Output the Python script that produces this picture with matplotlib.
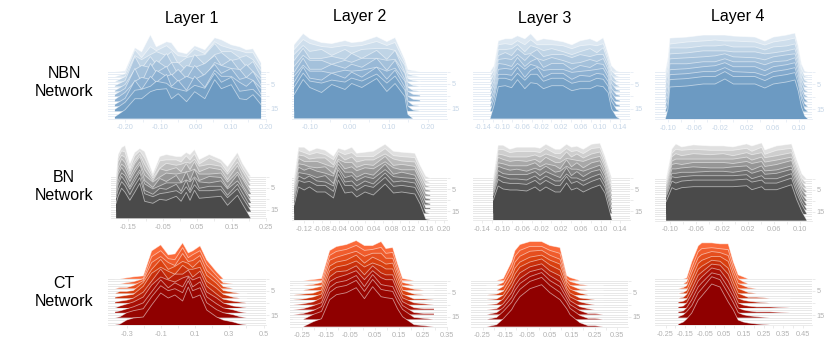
import matplotlib
matplotlib.use('Agg')
import matplotlib.pyplot as plt
from matplotlib.colors import LinearSegmentedColormap

plt.rcParams['font.family'] = ['Liberation Sans', 'DejaVu Sans']

# training steps of the ridges that are drawn (back to front)
steps = [0, 2, 4, 6, 8, 10, 12, 14, 16, 19]
all_steps = list(range(20))

# NBN network
nbn1_x = [-0.230, -0.201, -0.173, -0.154, -0.129, -0.112, -0.083, -0.069, -0.050, -0.026, -0.003, 0.026, 0.054, 0.073, 0.101, 0.125, 0.144, 0.163, 0.186]
nbn1_h = [
    [0, 1, 24, 20, 37, 25, 30, 29, 20, 18, 26, 22, 34, 32, 27, 25, 22, 23, 9],
    [0, 3, 27, 19, 30, 26, 31, 27, 21, 20, 28, 23, 35, 31, 28, 26, 24, 24, 10],
    [0, 5, 26, 22, 27, 30, 26, 30, 18, 24, 26, 27, 38, 30, 30, 24, 26, 22, 11],
    [1, 6, 30, 18, 30, 22, 33, 24, 24, 16, 32, 22, 32, 34, 26, 28, 20, 25, 10],
    [1, 7, 22, 26, 24, 31, 24, 29, 17, 26, 24, 28, 36, 26, 32, 21, 27, 20, 12],
    [2, 8, 28, 14, 33, 24, 30, 21, 27, 18, 31, 20, 34, 31, 28, 27, 19, 25, 11],
    [2, 9, 20, 24, 22, 31, 25, 27, 20, 25, 22, 27, 37, 28, 33, 22, 24, 21, 13],
    [2, 8, 26, 17, 30, 24, 32, 20, 26, 16, 30, 19, 36, 30, 30, 24, 20, 26, 12],
    [2, 9, 21, 22, 25, 30, 28, 24, 22, 20, 26, 23, 38, 29, 34, 20, 21, 22, 14],
    [2, 9, 20, 20, 27, 29, 30, 20, 25, 17, 27, 20, 39, 30, 34, 20, 19, 24, 14],
]
nbn2_x = [-0.142, -0.119, -0.102, -0.072, -0.046, -0.012, 0.005, 0.031, 0.069, 0.095, 0.116, 0.141, 0.149, 0.162, 0.180]
nbn2_h = [
    [27, 38, 33, 29, 28, 31, 29, 30, 35, 30, 34, 12, 2, 1, 0],
    [27, 37, 33, 30, 29, 31, 30, 31, 35, 31, 34, 14, 3, 1, 0],
    [27, 36, 30, 32, 26, 32, 28, 32, 33, 33, 31, 16, 3, 1, 0],
    [26, 38, 28, 28, 30, 27, 33, 28, 36, 27, 36, 14, 4, 1, 0],
    [25, 36, 31, 31, 27, 31, 29, 33, 33, 31, 32, 18, 4, 1, 0],
    [24, 38, 27, 27, 32, 28, 32, 29, 38, 26, 36, 17, 5, 2, 1],
    [25, 36, 30, 30, 28, 31, 30, 31, 34, 30, 33, 20, 5, 2, 1],
    [24, 39, 28, 26, 33, 28, 34, 29, 39, 27, 36, 19, 5, 1, 0],
    [24, 38, 30, 28, 31, 29, 33, 30, 37, 28, 35, 21, 5, 1, 0],
    [24, 39, 31, 26, 34, 29, 35, 31, 40, 27, 35, 22, 4, 0, 0],
]
nbn3_x = [-0.125, -0.117, -0.108, -0.094, -0.081, -0.069, -0.054, -0.042, -0.029, -0.016, 0.001, 0.024, 0.042, 0.059, 0.079, 0.093, 0.106, 0.116, 0.123, 0.133, 0.140]
nbn3_h = [
    [0, 6, 31, 33, 33, 36, 33, 38, 31, 33, 32, 30, 27, 31, 33, 30, 34, 18, 6, 1, 0],
    [0, 7, 32, 33, 32, 36, 32, 37, 32, 32, 32, 31, 28, 31, 32, 31, 33, 19, 6, 1, 0],
    [0, 8, 32, 32, 33, 37, 30, 36, 34, 31, 33, 30, 27, 30, 33, 29, 34, 20, 7, 1, 0],
    [0, 9, 31, 34, 31, 38, 32, 33, 37, 30, 32, 32, 29, 32, 30, 32, 32, 21, 7, 2, 0],
    [0, 10, 32, 33, 32, 37, 31, 37, 33, 31, 34, 31, 28, 29, 32, 30, 33, 22, 8, 2, 1],
    [0, 11, 33, 32, 30, 39, 30, 35, 38, 29, 33, 33, 27, 31, 29, 33, 32, 23, 8, 2, 1],
    [0, 11, 32, 33, 32, 38, 32, 37, 35, 31, 32, 32, 29, 30, 31, 32, 33, 24, 9, 2, 1],
    [0, 12, 32, 32, 31, 39, 29, 36, 39, 29, 33, 33, 27, 31, 30, 33, 32, 25, 9, 2, 1],
    [0, 12, 33, 33, 31, 38, 31, 37, 37, 30, 33, 33, 28, 30, 30, 33, 32, 25, 10, 2, 0],
    [0, 13, 32, 33, 31, 39, 30, 36, 35, 30, 33, 33, 28, 30, 30, 33, 32, 26, 10, 2, 0],
]
nbn4_x = [-0.104, -0.100, -0.097, -0.071, -0.046, -0.028, -0.013, 0.000, 0.033, 0.048, 0.061, 0.081, 0.094, 0.099, 0.104, 0.109, 0.114]
nbn4_h = [
    [0, 14, 34, 35, 37, 37, 37, 36, 35, 31, 35, 37, 39, 26, 8, 1, 0],
    [0, 14, 33, 35, 36, 37, 36, 36, 35, 32, 35, 37, 39, 26, 8, 1, 0],
    [0, 13, 34, 34, 36, 36, 37, 35, 35, 32, 35, 36, 38, 27, 9, 2, 0],
    [0, 13, 33, 34, 36, 36, 36, 35, 35, 33, 34, 36, 38, 27, 9, 2, 0],
    [0, 12, 33, 34, 35, 36, 38, 35, 34, 32, 35, 37, 38, 28, 10, 2, 0],
    [0, 12, 33, 33, 35, 35, 38, 35, 35, 32, 35, 36, 39, 28, 10, 2, 0],
    [0, 11, 32, 33, 35, 36, 39, 35, 35, 31, 35, 37, 39, 28, 11, 3, 0],
    [0, 11, 32, 33, 35, 35, 39, 35, 34, 31, 35, 37, 39, 28, 11, 3, 0],
    [0, 10, 32, 33, 35, 35, 40, 35, 35, 31, 35, 37, 39, 28, 12, 3, 0],
    [0, 10, 32, 33, 35, 35, 40, 35, 35, 31, 35, 37, 39, 28, 12, 3, 0],
]

# BN network
bn1_x = [-0.186, -0.180, -0.170, -0.160, -0.146, -0.132, -0.117, -0.103, -0.079, -0.059, -0.040, -0.011, 0.003, 0.018, 0.029, 0.042, 0.056, 0.085, 0.119, 0.138, 0.167, 0.182, 0.206]
bn1_h = [
    [0, 22, 29, 31, 13, 24, 28, 25, 3, 20, 22, 20, 20, 24, 22, 27, 17, 22, 17, 10, 24, 13, 0],
    [2, 23, 30, 29, 12, 25, 30, 23, 5, 20, 21, 21, 19, 25, 21, 27, 17, 23, 18, 9, 24, 13, 0],
    [5, 24, 30, 28, 14, 24, 31, 21, 7, 17, 22, 20, 21, 23, 22, 26, 19, 21, 19, 11, 23, 14, 0],
    [7, 22, 31, 27, 15, 26, 33, 20, 9, 21, 19, 22, 18, 26, 20, 28, 18, 22, 20, 10, 24, 13, 0],
    [9, 23, 30, 27, 16, 25, 32, 19, 12, 17, 21, 20, 21, 22, 23, 25, 20, 20, 21, 12, 22, 15, 1],
    [11, 24, 31, 26, 17, 26, 34, 18, 11, 20, 17, 23, 16, 27, 18, 29, 18, 22, 21, 11, 24, 13, 0],
    [12, 22, 30, 27, 16, 25, 33, 19, 14, 17, 20, 20, 20, 23, 21, 26, 21, 20, 22, 14, 22, 15, 1],
    [13, 23, 31, 26, 18, 26, 35, 17, 13, 19, 18, 23, 16, 27, 17, 29, 19, 21, 21, 12, 23, 14, 0],
    [14, 22, 30, 26, 17, 26, 34, 18, 15, 18, 19, 21, 18, 25, 19, 27, 21, 21, 22, 14, 23, 14, 1],
    [15, 22, 30, 26, 18, 26, 35, 17, 15, 19, 18, 22, 17, 26, 18, 28, 20, 21, 22, 13, 23, 14, 0],
]
bn2_x = [-0.143, -0.133, -0.120, -0.108, -0.091, -0.072, -0.053, -0.042, -0.027, -0.011, 0.000, 0.019, 0.038, 0.065, 0.084, 0.103, 0.133, 0.145, 0.158, 0.168]
bn2_h = [
    [0, 31, 31, 27, 30, 28, 22, 30, 28, 31, 25, 26, 27, 34, 27, 26, 25, 13, 2, 0],
    [2, 32, 30, 28, 30, 28, 23, 31, 28, 30, 26, 26, 26, 34, 27, 26, 25, 13, 2, 0],
    [4, 32, 31, 28, 29, 29, 22, 33, 27, 30, 25, 27, 27, 33, 28, 26, 25, 14, 2, 0],
    [6, 33, 30, 30, 30, 27, 24, 32, 29, 29, 24, 27, 26, 35, 26, 27, 25, 14, 2, 1],
    [8, 32, 31, 29, 28, 29, 22, 35, 27, 29, 25, 28, 27, 34, 28, 26, 26, 15, 2, 1],
    [9, 33, 30, 32, 29, 27, 24, 36, 28, 28, 23, 27, 25, 36, 26, 28, 25, 15, 2, 1],
    [11, 32, 31, 30, 27, 29, 21, 37, 27, 29, 24, 28, 26, 35, 28, 27, 26, 15, 2, 1],
    [12, 33, 30, 33, 28, 27, 23, 39, 27, 28, 23, 28, 25, 36, 27, 28, 26, 16, 1, 1],
    [13, 33, 31, 32, 28, 28, 22, 39, 28, 28, 23, 28, 26, 36, 27, 28, 26, 16, 1, 0],
    [15, 33, 30, 33, 28, 28, 22, 40, 27, 28, 23, 28, 25, 36, 27, 28, 26, 16, 1, 0],
]
bn3_x = [-0.118, -0.108, -0.098, -0.084, -0.070, -0.050, -0.033, -0.023, -0.011, 0.008, 0.018, 0.031, 0.041, 0.052, 0.065, 0.082, 0.099, 0.109, 0.123]
bn3_h = [
    [0, 33, 33, 29, 31, 31, 31, 30, 34, 29, 29, 34, 31, 32, 29, 34, 35, 22, 0],
    [2, 33, 33, 30, 31, 31, 31, 30, 34, 29, 29, 34, 31, 32, 29, 34, 35, 23, 0],
    [5, 33, 32, 30, 30, 30, 32, 30, 33, 30, 28, 35, 30, 33, 29, 33, 35, 23, 0],
    [8, 34, 32, 30, 31, 30, 32, 29, 34, 29, 29, 33, 32, 31, 30, 33, 35, 24, 1],
    [10, 33, 32, 30, 30, 30, 33, 29, 32, 30, 27, 36, 29, 33, 28, 33, 35, 24, 1],
    [12, 34, 32, 30, 31, 29, 32, 30, 34, 28, 29, 34, 31, 31, 29, 32, 35, 25, 1],
    [14, 34, 31, 30, 30, 30, 33, 29, 33, 29, 27, 37, 29, 33, 28, 33, 35, 25, 1],
    [16, 34, 32, 30, 30, 29, 33, 29, 33, 28, 28, 35, 31, 31, 28, 32, 35, 26, 1],
    [18, 34, 31, 30, 30, 29, 33, 29, 33, 28, 28, 37, 30, 32, 28, 32, 35, 26, 1],
    [20, 34, 31, 30, 30, 29, 33, 29, 33, 28, 28, 37, 30, 32, 28, 32, 35, 27, 1],
]
bn4_x = [-0.106, -0.097, -0.091, -0.082, -0.064, -0.038, -0.018, -0.003, 0.018, 0.026, 0.041, 0.046, 0.064, 0.087, 0.095, 0.103, 0.110]
bn4_h = [
    [0, 30, 35, 32, 34, 33, 33, 32, 35, 33, 36, 29, 33, 35, 19, 5, 0],
    [2, 30, 34, 33, 34, 33, 33, 33, 35, 32, 36, 29, 33, 35, 19, 5, 0],
    [4, 31, 34, 32, 34, 33, 34, 32, 35, 33, 35, 30, 32, 35, 20, 6, 0],
    [7, 31, 33, 33, 33, 33, 33, 33, 35, 32, 35, 30, 32, 35, 20, 6, 1],
    [9, 32, 33, 32, 34, 34, 34, 33, 35, 33, 35, 30, 32, 36, 20, 7, 1],
    [11, 32, 32, 33, 34, 33, 33, 34, 35, 31, 35, 30, 31, 35, 21, 7, 1],
    [13, 32, 32, 33, 33, 34, 34, 33, 35, 32, 35, 31, 32, 36, 21, 8, 1],
    [15, 33, 32, 33, 34, 34, 34, 34, 35, 31, 34, 31, 31, 36, 21, 8, 1],
    [17, 33, 31, 33, 34, 34, 34, 34, 35, 32, 34, 31, 31, 36, 21, 9, 1],
    [19, 33, 31, 33, 34, 34, 34, 34, 35, 31, 34, 31, 31, 36, 21, 9, 1],
]

# CT network
ct1_x = [-0.368, -0.339, -0.300, -0.261, -0.203, -0.154, -0.101, -0.057, -0.018, 0.027, 0.060, 0.086, 0.129, 0.168, 0.226, 0.265, 0.323, 0.363, 0.402]
ct1_h = [
    [0, 0, 1, 2, 3, 28, 34, 24, 25, 36, 26, 28, 33, 19, 7, 0, 0, 0, 0],
    [0, 0, 1, 2, 5, 27, 33, 25, 24, 36, 26, 29, 33, 19, 8, 1, 0, 0, 0],
    [0, 1, 1, 3, 8, 26, 32, 26, 23, 35, 27, 28, 33, 18, 9, 2, 0, 0, 0],
    [0, 2, 2, 3, 11, 24, 34, 24, 27, 32, 30, 26, 33, 18, 10, 3, 1, 0, 0],
    [1, 2, 3, 4, 12, 25, 31, 27, 24, 33, 29, 29, 31, 17, 10, 4, 1, 0, 0],
    [1, 2, 3, 5, 11, 22, 34, 24, 29, 29, 33, 26, 32, 17, 9, 4, 2, 1, 0],
    [0, 2, 4, 6, 11, 23, 31, 28, 26, 30, 32, 28, 31, 16, 10, 5, 2, 1, 0],
    [1, 2, 4, 6, 10, 21, 33, 25, 30, 26, 36, 26, 31, 16, 9, 5, 3, 1, 0],
    [0, 1, 5, 7, 9, 21, 32, 27, 29, 25, 37, 27, 30, 15, 8, 5, 3, 1, 0],
    [0, 1, 5, 7, 8, 20, 32, 27, 30, 24, 38, 27, 30, 15, 8, 5, 3, 1, 0],
]
ct2_x = [-0.287, -0.246, -0.204, -0.170, -0.136, -0.108, -0.067, -0.026, 0.008, 0.042, 0.077, 0.097, 0.125, 0.145, 0.166, 0.214, 0.255, 0.296]
ct2_h = [
    [0, 0, 1, 2, 30, 34, 36, 40, 35, 35, 39, 32, 33, 17, 2, 0, 0, 0],
    [0, 0, 1, 3, 30, 34, 36, 40, 35, 36, 38, 32, 33, 17, 3, 0, 0, 0],
    [0, 0, 2, 4, 30, 33, 36, 39, 34, 37, 37, 32, 32, 18, 4, 1, 0, 0],
    [0, 1, 2, 5, 29, 33, 35, 40, 32, 38, 34, 31, 32, 18, 5, 1, 0, 0],
    [0, 1, 3, 6, 29, 33, 35, 39, 33, 37, 34, 31, 31, 18, 6, 1, 1, 0],
    [0, 1, 3, 7, 28, 33, 34, 39, 30, 39, 32, 30, 30, 18, 7, 2, 1, 0],
    [0, 1, 4, 7, 28, 32, 35, 39, 30, 39, 32, 30, 30, 18, 8, 2, 1, 1],
    [0, 1, 4, 8, 27, 32, 34, 39, 28, 40, 30, 29, 28, 18, 9, 2, 1, 1],
    [0, 0, 5, 8, 27, 32, 34, 39, 28, 40, 30, 29, 28, 18, 10, 2, 1, 0],
    [0, 0, 5, 8, 27, 32, 34, 39, 28, 40, 30, 29, 28, 18, 10, 2, 1, 0],
]
ct3_x = [-0.231, -0.187, -0.157, -0.120, -0.105, -0.083, -0.038, 0.014, 0.051, 0.096, 0.126, 0.141, 0.185, 0.222, 0.252, 0.289]
ct3_h = [
    [0, 0, 2, 19, 30, 36, 39, 39, 35, 33, 5, 3, 0, 0, 0, 0],
    [0, 0, 3, 19, 29, 35, 39, 39, 35, 32, 7, 4, 1, 0, 0, 0],
    [0, 0, 4, 18, 28, 34, 39, 40, 35, 31, 9, 5, 1, 0, 0, 0],
    [0, 1, 4, 18, 27, 33, 38, 40, 35, 31, 11, 6, 2, 0, 0, 0],
    [0, 1, 5, 18, 26, 33, 38, 41, 35, 30, 12, 7, 2, 1, 0, 0],
    [0, 1, 6, 18, 25, 32, 38, 41, 34, 29, 14, 8, 3, 1, 0, 0],
    [0, 1, 6, 17, 24, 31, 38, 41, 34, 28, 15, 9, 3, 1, 0, 0],
    [0, 2, 7, 17, 24, 31, 38, 42, 34, 28, 16, 10, 4, 1, 1, 0],
    [0, 2, 8, 17, 23, 30, 38, 42, 34, 27, 17, 11, 4, 1, 1, 0],
    [0, 2, 8, 17, 23, 30, 38, 42, 34, 27, 18, 12, 4, 1, 1, 0],
]
ct4_x = [-0.184, -0.159, -0.142, -0.116, -0.083, -0.065, -0.014, 0.028, 0.070, 0.096, 0.121, 0.147, 0.172, 0.215, 0.283, 0.385]
ct4_h = [
    [0, 0, 1, 17, 33, 36, 36, 35, 35, 17, 4, 2, 0, 0, 0, 0],
    [0, 0, 2, 16, 32, 35, 36, 35, 34, 17, 5, 2, 0, 0, 0, 0],
    [0, 1, 3, 16, 31, 34, 37, 36, 33, 17, 5, 3, 1, 0, 0, 0],
    [0, 1, 3, 15, 30, 33, 37, 37, 32, 17, 5, 3, 1, 0, 0, 0],
    [0, 1, 4, 15, 29, 32, 38, 37, 30, 16, 5, 3, 1, 1, 0, 0],
    [1, 2, 4, 14, 28, 31, 39, 38, 29, 16, 5, 3, 2, 1, 0, 0],
    [1, 2, 5, 14, 27, 31, 40, 38, 27, 16, 5, 3, 2, 1, 1, 0],
    [1, 2, 5, 13, 26, 30, 40, 38, 25, 16, 5, 3, 2, 1, 1, 0],
    [1, 3, 6, 12, 25, 29, 41, 38, 24, 15, 5, 3, 2, 1, 0, 0],
    [1, 3, 6, 12, 25, 29, 41, 38, 23, 15, 5, 3, 2, 1, 0, 0],
]

layer_titles = ['Layer 1', 'Layer 2', 'Layer 3', 'Layer 4']
network_labels = ['NBN\nNetwork', 'BN\nNetwork', 'CT\nNetwork']

tick_nbn1 = ['-0.20', '-0.10', '0.00', '0.10', '0.20']
tick_nbn2 = ['-0.10', '0.00', '0.10', '0.20']
tick_nbn3 = ['-0.14', '-0.10', '-0.06', '-0.02', '0.02', '0.06', '0.10', '0.14']
tick_nbn4 = ['-0.10', '-0.06', '-0.02', '0.02', '0.06', '0.10']
tick_bn1 = ['-0.15', '-0.05', '0.05', '0.15', '0.25']
tick_bn2 = ['-0.12', '-0.08', '-0.04', '0.00', '0.04', '0.08', '0.12', '0.16', '0.20']
tick_bn3 = tick_nbn3
tick_bn4 = tick_nbn4
tick_ct1 = ['-0.3', '-0.1', '0.1', '0.3', '0.5']
tick_ct2 = ['-0.25', '-0.15', '-0.05', '0.05', '0.15', '0.25', '0.35']
tick_ct3 = tick_ct2
tick_ct4 = ['-0.25', '-0.15', '-0.05', '0.05', '0.15', '0.25', '0.35', '0.45']

W, H = 830, 341
fig = plt.figure(figsize=(W / 100, H / 100), dpi=100)

blues = LinearSegmentedColormap.from_list('b', ['#dde8f2', '#b0c9e0', '#8db1d2', '#6c9ac2'])
greys = LinearSegmentedColormap.from_list('g', ['#e0e0e0', '#a8a8a8', '#707070', '#4a4a4a'])
reds = LinearSegmentedColormap.from_list('r', ['#fb6a3a', '#d9400f', '#a80f04', '#8f0000'])


def ridge_panel(x, rows, ticks, left, right, base, zero_px, scale, spacing, cmap, faint, label_col):
    top = 95
    ax = fig.add_axes([left / W, 1 - base / H, (right - left) / W, top / H])
    ax.patch.set_alpha(0)
    ax.set_xlim((left - zero_px) / scale, (right - zero_px) / scale)
    ax.set_ylim(0, top)
    for s in all_steps:
        ax.axhline((19 - s) * spacing, color=faint, lw=0.7, zorder=1)
    n = len(steps)
    for i in range(n):
        b = (19 - steps[i]) * spacing
        tops = [b + v for v in rows[i]]
        ax.fill_between(x, b, tops, facecolor=cmap(i / (n - 1)), edgecolor='none', zorder=2 + i, clip_on=False)
        ax.plot(x, tops, color='white', alpha=0.55, lw=0.6, zorder=2 + i, clip_on=False)
    vals = [float(t) for t in ticks]
    ax.set_xticks(vals)
    ax.set_xticklabels(ticks)
    ax.set_xticks([(vals[j] + vals[j + 1]) / 2 for j in range(len(vals) - 1)], minor=True)
    ax.yaxis.tick_right()
    ax.set_yticks([(19 - s) * spacing for s in [0, 5, 10, 15]])
    ax.set_yticklabels(['', '5', '', '15'])
    ax.tick_params(axis='both', which='both', colors=faint, length=2, width=0.6, labelsize=5.3, labelcolor=label_col, pad=1.5)
    ax.tick_params(axis='x', pad=2)
    for name in ['top', 'left', 'right']:
        ax.spines[name].set_visible(False)
    ax.spines['bottom'].set_color(faint)
    ax.spines['bottom'].set_linewidth(0.6)
    return ax


b_f, b_l = '#e6edf5', '#c6d6e7'
g_f, g_l = '#e8e8e8', '#b2b2b2'
ridge_panel(nbn1_x, nbn1_h, tick_nbn1, 108, 266, 118.7, 196, 352.5, 2.47, blues, b_f, b_l)
ridge_panel(nbn2_x, nbn2_h, tick_nbn2, 292, 447, 118.5, 349.7, 391, 2.47, blues, b_f, b_l)
ridge_panel(nbn3_x, nbn3_h, tick_nbn3, 473, 630, 118.7, 551.3, 490, 2.47, blues, b_f, b_l)
ridge_panel(nbn4_x, nbn4_h, tick_nbn4, 655, 812, 119, 733.4, 655, 2.47, blues, b_f, b_l)
ridge_panel(bn1_x, bn1_h, tick_bn1, 111, 266, 218.3, 180.5, 346, 2.2, greys, g_f, g_l)
ridge_panel(bn2_x, bn2_h, tick_bn2, 292, 447, 220, 356.7, 437.5, 2.2, greys, g_f, g_l)
ridge_panel(bn3_x, bn3_h, tick_bn3, 473, 630, 220, 551.3, 492, 2.2, greys, g_f, g_l)
ridge_panel(bn4_x, bn4_h, tick_bn4, 655, 812, 220.7, 735, 650, 2.2, greys, g_f, g_l)
ridge_panel(ct1_x, ct1_h, tick_ct1, 108, 266, 325, 178, 171, 2.43, reds, g_f, g_l)
ridge_panel(ct2_x, ct2_h, tick_ct2, 290, 447, 326.7, 363, 243, 2.43, reds, g_f, g_l)
ridge_panel(ct3_x, ct3_h, tick_ct3, 471, 628, 326.7, 538.5, 224, 2.43, reds, g_f, g_l)
ridge_panel(ct4_x, ct4_h, tick_ct4, 655, 812, 325, 714.5, 196, 2.43, reds, g_f, g_l)

title_pos = [(192, 18), (360, 16), (545, 18), (738, 17)]
for (px, py), t in zip(title_pos, layer_titles):
    fig.text(px / W, 1 - py / H, t, ha='center', va='center', fontsize=11.5, color='black')
label_pos = [(64, 82), (64, 186), (64, 293)]
for (px, py), t in zip(label_pos, network_labels):
    fig.text(px / W, 1 - py / H, t, ha='center', va='center', fontsize=11.5, color='black', linespacing=1.25)

fig.savefig('out.png', dpi=100)
